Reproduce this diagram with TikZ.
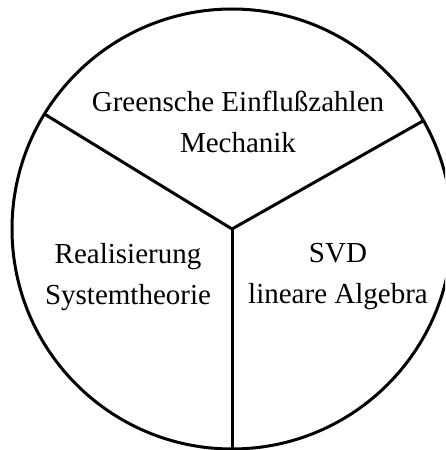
\documentclass[tikz,border=0pt]{standalone}
\usepackage{fontspec}
\setmainfont{Liberation Serif}
\usetikzlibrary{calc}
\begin{document}
\begin{tikzpicture}[x=1pt,y=1pt,
  rim/.style={line width=3pt},
  spoke/.style={line width=3pt},
  lbl/.style={align=center,font=\fontsize{29}{41}\selectfont,inner sep=0pt}]
\useasboundingbox (0,0) rectangle (445,450);
\clip (0,0) rectangle (445,450);
\coordinate (c) at (232,221);
\draw[rim] (c) circle (220);
\coordinate (ur) at ($(c)+(29.5:220)$);
\coordinate (ul) at ($(c)+(148.5:220)$);
\coordinate (bt) at ($(c)+(270:225)$);
\draw[spoke] (ul) -- (c) -- (ur);
\draw[spoke] (c) -- (bt);
\node[lbl] (top) at (238,328) {Greensche Einflußzahlen\\Mechanik};
\node[lbl] (left) at (128,173) {Realisierung\\Systemtheorie};
\node[lbl] (right) at (338,173) {SVD\\lineare Algebra};
\end{tikzpicture}
\end{document}
